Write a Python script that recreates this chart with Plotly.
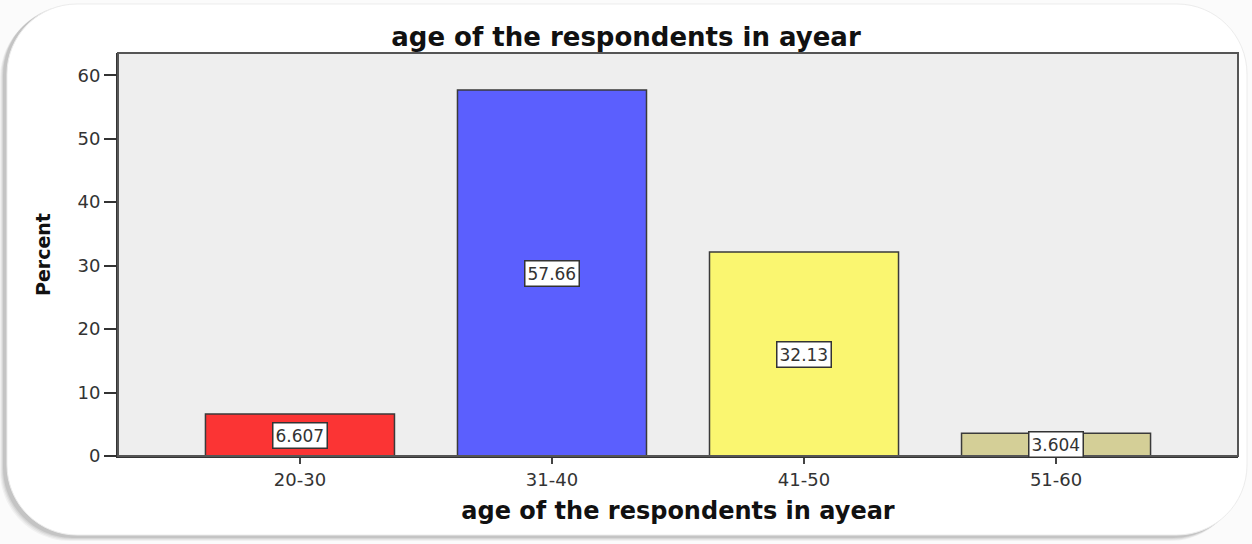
import plotly.graph_objects as go

# Age distribution of respondents (percent)
age_groups = ["20-30", "31-40", "41-50", "51-60"]
percent = [6.607, 57.66, 32.13, 3.604]
bar_colors = ["#fb3434", "#5b5ffe", "#faf670", "#d4cf97"]
y_ticks = [0, 10, 20, 30, 40, 50, 60]

W, H = 1252, 544
L, R, T, B = 118, 14, 53, 88
plot_w, plot_h = W - L - R, H - T - B


def to_paper(px, py):
    """Convert page pixels to paper fractions for decorative shapes."""
    return (px - L) / plot_w, (H - B - py) / plot_h


def rounded_rect(x0, y0, x1, y1, r):
    def p(x, y):
        fx, fy = to_paper(x, y)
        return f"{fx:.5f},{fy:.5f}"
    k = 0.5523 * r
    return (
        f"M {p(x0 + r, y0)} L {p(x1 - r, y0)} "
        f"C {p(x1 - r + k, y0)} {p(x1, y0 + r - k)} {p(x1, y0 + r)} "
        f"L {p(x1, y1 - r)} "
        f"C {p(x1, y1 - r + k)} {p(x1 - r + k, y1)} {p(x1 - r, y1)} "
        f"L {p(x0 + r, y1)} "
        f"C {p(x0 + r - k, y1)} {p(x0, y1 - r + k)} {p(x0, y1 - r)} "
        f"L {p(x0, y0 + r)} "
        f"C {p(x0, y0 + r - k)} {p(x0 + r - k, y0)} {p(x0 + r, y0)} Z"
    )


shapes = []
# soft drop shadow of the card
for i, op in enumerate([0.06, 0.08, 0.10, 0.14]):
    d = 4 - i
    shapes.append(dict(
        type="path", xref="paper", yref="paper", layer="below",
        path=rounded_rect(4 - d, 6 + d - 2, 1244 - d, 539 + d - 2, 70),
        fillcolor=f"rgba(90,90,90,{op})", line=dict(width=0),
    ))
# white card
shapes.append(dict(
    type="path", xref="paper", yref="paper", layer="below",
    path=rounded_rect(7, 4, 1247, 535, 70),
    fillcolor="white", line=dict(color="#ececec", width=1),
))
# plot area background, drawn on top of the card
shapes.append(dict(
    type="rect", xref="paper", yref="paper", layer="below",
    x0=0, y0=0, x1=1, y1=1, fillcolor="#eeeeee", line=dict(width=0),
))
# plot frame
shapes.append(dict(
    type="rect", xref="paper", yref="paper", layer="above",
    x0=0, y0=0, x1=1, y1=1, line=dict(color="#555555", width=2),
))

fig = go.Figure(go.Bar(
    x=age_groups,
    y=percent,
    width=0.75,
    marker=dict(color=bar_colors, line=dict(color="#3a3a3a", width=1.5)),
    showlegend=False,
))

annotations = [
    dict(
        x=g, y=v / 2, xref="x", yref="y", text=f"{v:.4g}", showarrow=False,
        font=dict(family="DejaVu Sans", size=17, color="#333333"),
        bgcolor="white", bordercolor="#333333", borderwidth=1.5, borderpad=2,
    )
    for g, v in zip(age_groups, percent)
]

fig.update_layout(
    width=W, height=H,
    margin=dict(l=L, r=R, t=T, b=B, pad=0),
    paper_bgcolor="#fbfbfb",
    plot_bgcolor="#eeeeee",
    title=dict(
        text="<b>age of the respondents in ayear</b>",
        x=0.5, xanchor="center", y=1 - 37 / H, yanchor="middle", yref="container",
        font=dict(family="DejaVu Sans", size=26, color="#111111"),
    ),
    xaxis=dict(
        range=[-0.722, 3.722],
        showline=True, linecolor="#333333", linewidth=2,
        ticks="outside", ticklen=6, tickwidth=2, tickcolor="#444444",
        tickfont=dict(family="DejaVu Sans", size=18, color="#333333"),
        showgrid=False, zeroline=False,
        title=dict(text="<b>age of the respondents in ayear</b>", standoff=14,
                   font=dict(family="DejaVu Sans", size=24, color="#111111")),
    ),
    yaxis=dict(
        range=[0, 63.5],
        tickvals=y_ticks,
        showline=True, linecolor="#333333", linewidth=2,
        ticks="outside", ticklen=12, tickwidth=2, tickcolor="#333333",
        tickfont=dict(family="DejaVu Sans", size=18, color="#333333"),
        showgrid=False, zeroline=False,
        title=dict(text="<b>Percent</b>", standoff=22,
                   font=dict(family="DejaVu Sans", size=19, color="#111111")),
    ),
    shapes=shapes,
    annotations=annotations,
)

fig.write_html("out.html")
